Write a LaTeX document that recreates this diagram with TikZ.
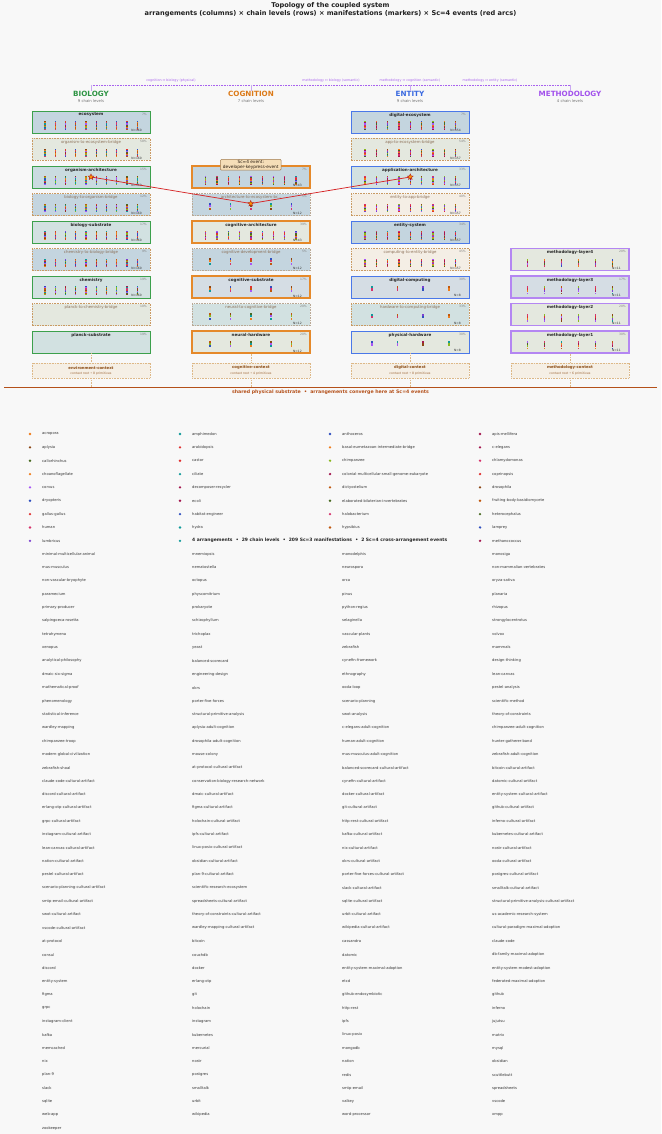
\documentclass[tikz,border=0pt]{standalone}
\usepackage{fontspec}
\setmainfont{DejaVu Sans}
\usetikzlibrary{shapes.geometric}
\definecolor{bg}{HTML}{F8F8F8}
\definecolor{bioG}{HTML}{3CA04C}
\definecolor{cogO}{HTML}{E5892A}
\definecolor{entB}{HTML}{4A78E8}
\definecolor{metP}{HTML}{B486F2}
\definecolor{bioT}{HTML}{2E9444}
\definecolor{cogT}{HTML}{DC7A18}
\definecolor{entT}{HTML}{3B6AE0}
\definecolor{metT}{HTML}{A251EC}
\definecolor{brg}{HTML}{C99A62}
\definecolor{brgc}{HTML}{B9A894}
\definecolor{brtxt}{HTML}{8C7058}
\definecolor{fB}{HTML}{C4D5DF}
\definecolor{fBT}{HTML}{CADBE0}
\definecolor{fT}{HTML}{D2E1E1}
\definecolor{fG}{HTML}{E4E8DF}
\definecolor{fC}{HTML}{F4EEE5}
\definecolor{fS}{HTML}{D5DDE4}
\definecolor{ctxF}{HTML}{F5EFE5}
\definecolor{ctxD}{HTML}{DDB887}
\definecolor{ctxT}{HTML}{8A4A12}
\definecolor{baseC}{HTML}{B4501A}
\definecolor{arcR}{HTML}{D62728}
\definecolor{lnk}{HTML}{A862EE}
\definecolor{lnkL}{HTML}{C9A8F2}
\definecolor{evF}{HTML}{F5DEB8}
\definecolor{m0}{HTML}{F07C1A}
\definecolor{m1}{HTML}{8B4513}
\definecolor{m2}{HTML}{4A6B22}
\definecolor{m3}{HTML}{A855F7}
\definecolor{m4}{HTML}{2F4FBF}
\definecolor{m5}{HTML}{E03131}
\definecolor{m6}{HTML}{D6336C}
\definecolor{m7}{HTML}{0F9A9A}
\definecolor{m8}{HTML}{A3174F}
\definecolor{m9}{HTML}{8AB820}
\definecolor{m10}{HTML}{C0580E}
\definecolor{m11}{HTML}{7B3FD0}
\newcommand{\fs}[1]{\fontsize{#1}{#1}\selectfont}
\newcommand{\archt}[1]{{\fs{4.1}\bfseries\color{black!85}#1}}
\newcommand{\bridt}[1]{{\fs{3.9}\color{brtxt}#1}}
\tikzset{
  rowb/.style={rectangle,minimum width=118pt,minimum height=22pt,inner sep=0pt},
  bioA/.style={draw=bioG,line width=0.9pt},
  cogA/.style={draw=cogO,line width=1.1pt},
  entA/.style={draw=entB,line width=0.9pt},
  metA/.style={draw=metP,line width=1.5pt},
  bridge/.style={draw=brg,dash pattern=on 1.6pt off 1pt,line width=0.7pt},
  bridgec/.style={draw=brgc,dash pattern=on 1.6pt off 1pt,line width=0.7pt},
  pct/.style={font=\fs{3},text=black!50,inner sep=0pt,anchor=east},
  nlabel/.style={font=\fs{3},text=black!80,inner sep=0pt,anchor=east},
  ctx/.style={rectangle,minimum width=118pt,minimum height=15pt,inner sep=0pt,fill=ctxF,draw=ctxD,dash pattern=on 0.8pt off 0.8pt,line width=0.6pt},
  vlink/.style={draw=ctxD,dash pattern=on 0.8pt off 0.8pt,line width=0.5pt},
  head/.style={font=\fs{7.2}\bfseries,inner sep=0pt},
  sub/.style={font=\fs{3.8},text=black!55,inner sep=0pt},
  lnklab/.style={font=\fs{3.3},text=lnk,inner sep=0pt},
  leg/.style={font=\fs{3.7},text=black!80,inner sep=0pt,anchor=west},
  evstar/.style={star,star points=5,star point ratio=2.2,minimum size=6pt,inner sep=0pt,fill=orange!85!yellow,draw=arcR!80!black,line width=0.4pt},
}
\newcommand{\rowbox}[7]{%
  \node[rowb,#4,fill=#5] (#1) at ({#2+59},{#3+11}) {};
  \node[anchor=north,inner sep=0pt] at ({#2+59},{#3+1.7}) {#6};
  \node[pct] at ({#2+115},{#3+3}) {#7};}
\newcommand{\nlab}[3]{\node[nlabel] at ({#1+110},{#2+19.9}) {N=#3};}
\newcommand{\bars}[8]{%
  \foreach \i in {1,...,#3}{%
    \foreach \j in {1,...,#5}{%
      \pgfmathtruncatemacro{\rr}{mod(\i*17+\j*29+\i*\j*\j*7+\j*\j*3+\i*\i*5+round(#4)*3+round(#1),12)}%
      \fill[m\rr] ({#1+(\i-1)*#2-#7/2},{#4+(\j-1)*#6}) rectangle ++(#7,#8);}}}
\begin{document}
\begin{tikzpicture}[x=1pt,y=-1pt]
\path[use as bounding box,fill=bg] (0,0) rectangle (661,1134);
% title
\node[font=\fs{6.6}\bfseries,text=black!88,inner sep=0pt] (title1) at (330.5,6) {Topology of the coupled system};
\node[font=\fs{6.6}\bfseries,text=black!88,inner sep=0pt] (title2) at (330.5,14) {arrangements (columns) × chain levels (rows) × manifestations (markers) × Sc=4 events (red arcs)};
% arrangement links
\coordinate (t1) at (91,85);
\coordinate (t2) at (251,85);
\coordinate (t3) at (410,85);
\coordinate (t4) at (570,85);
\draw[lnk,dash pattern=on 1pt off 0.6pt,line width=0.5pt] (t1) -- (t4);
\node[lnklab] (l1) at (171,81) {cognition ↔ biology (physical)};
\node[lnklab] (l2) at (331,81) {methodology ↔ biology (semantic)};
\node[lnklab] (l3) at (410,81) {methodology ↔ cognition (semantic)};
\node[lnklab] (l4) at (490,81) {methodology ↔ entity (semantic)};
% headers
\node[head,text=bioT] (bioh) at (91,93.5) {BIOLOGY};
\node[head,text=cogT] (cogh) at (251,93.5) {COGNITION};
\node[head,text=entT] (enth) at (410,93.5) {ENTITY};
\node[head,text=metT] (meth) at (570,93.5) {METHODOLOGY};
\node[sub] at (91,101.3) {9 chain levels};
\node[sub] at (251,101.3) {7 chain levels};
\node[sub] at (410,101.3) {9 chain levels};
\node[sub] at (570,101.3) {4 chain levels};
\foreach \a/\b in {t1/bioh,t2/cogh,t3/enth,t4/meth} \draw[lnkL,line width=0.5pt] (\a) -- (\b.north);
% ---------------- BIOLOGY ----------------
\rowbox{bio1}{32}{111}{bioA}{fB}{\archt{ecosystem}}{7\%}
\rowbox{bio2}{32}{138.5}{bridge}{fG}{\bridt{organism-to-ecosystem-bridge}}{58\%}
\rowbox{bio3}{32}{166}{bioA}{fBT}{\archt{organism-architecture}}{15\%}
\rowbox{bio4}{32}{193.5}{bridge}{fB}{\bridt{biology-to-organism-bridge}}{12\%}
\rowbox{bio5}{32}{221}{bioA}{fT}{\archt{biology-substrate}}{17\%}
\rowbox{bio6}{32}{248.5}{bridge}{fB}{\bridt{chemistry-to-biology-bridge}}{9\%}
\rowbox{bio7}{32}{276}{bioA}{fT}{\archt{chemistry}}{19\%}
\rowbox{bio8}{32}{303.5}{bridge}{fG}{\bridt{planck-to-chemistry-bridge}}{10\%}
\rowbox{bio9}{32}{331}{bioA}{fT}{\archt{planck-substrate}}{19\%}
\foreach \y in {111,138.5,166,193.5,221,248.5,276}{
  \bars{45}{10.25}{10}{\y+10.3}{8}{1.08}{1.3}{1.08}
  \nlab{32}{\y}{160}}
% ---------------- COGNITION ----------------
\rowbox{cog1}{192}{166}{cogA}{fB}{}{7\%}
\rowbox{cog2}{192}{193.5}{bridgec}{fB}{\bridt{architecture-to-ecosystem-br...}}{5\%}
\rowbox{cog3}{192}{221}{cogA}{fG}{\archt{cognitive-architecture}}{39\%}
\rowbox{cog4}{192}{248.5}{bridgec}{fB}{\bridt{cognitive-development-bridge}}{5\%}
\rowbox{cog5}{192}{276}{cogA}{fS}{\archt{cognitive-substrate}}{17\%}
\rowbox{cog6}{192}{303.5}{bridgec}{fT}{\bridt{neural-to-cognitive-bridge}}{20\%}
\rowbox{cog7}{192}{331}{cogA}{fG}{\archt{neural-hardware}}{20\%}
\foreach \y in {166,221}{
  \bars{205.7}{11.3}{9}{\y+10.3}{8}{1.08}{1.3}{1.08}
  \nlab{192}{\y}{43}}
\foreach \y in {193.5,248.5,276,303.5,331}{
  \bars{210}{20.4}{5}{\y+9.5}{3}{2.3}{1.7}{2.0}
  \nlab{192}{\y}{12}}
% ---------------- ENTITY ----------------
\rowbox{ent1}{351}{111}{entA}{fB}{\archt{digital-ecosystem}}{7\%}
\rowbox{ent2}{351}{138.5}{bridge}{fG}{\bridt{app-to-ecosystem-bridge}}{54\%}
\rowbox{ent3}{351}{166}{entA}{fT}{\archt{application-architecture}}{33\%}
\rowbox{ent4}{351}{193.5}{bridge}{fC}{\bridt{entity-to-app-bridge}}{40\%}
\rowbox{ent5}{351}{221}{entA}{fB}{\archt{entity-system}}{34\%}
\rowbox{ent6}{351}{248.5}{bridge}{fC}{\bridt{computing-to-entity-bridge}}{45\%}
\rowbox{ent7}{351}{276}{entA}{fS}{\archt{digital-computing}}{30\%}
\rowbox{ent8}{351}{303.5}{bridge}{fT}{\bridt{hardware-to-computing-bridge}}{33\%}
\rowbox{ent9}{351}{331}{entA}{fG}{\archt{physical-hardware}}{30\%}
\bars{365}{11.34}{9}{121.3}{8}{1.08}{1.3}{1.08}
\nlab{351}{111}{154}
\foreach \y in {138.5,166,193.5,221,248.5}{
  \bars{365}{11.34}{9}{\y+10.3}{8}{1.08}{1.3}{1.08}
  \nlab{351}{\y}{157}}
\foreach \y in {276,303.5,331}{
  \bars{371.7}{25.7}{4}{\y+10}{2}{2.4}{1.8}{2.1}
  \nlab{351}{\y}{8}}
% ---------------- METHODOLOGY ----------------
\rowbox{met4}{511}{248.5}{metA}{fG}{\archt{methodology-layer4}}{20\%}
\rowbox{met3}{511}{276}{metA}{fS}{\archt{methodology-layer3}}{17\%}
\rowbox{met2}{511}{303.5}{metA}{fG}{\archt{methodology-layer2}}{20\%}
\rowbox{met1}{511}{331}{metA}{fG}{\archt{methodology-layer1}}{30\%}
\foreach \y in {248.5,276,303.5,331}{
  \bars{527.3}{17.07}{6}{\y+10.2}{4}{2.1}{1.6}{1.8}
  \nlab{511}{\y}{11}}
% ---------------- contexts ----------------
\foreach \n/\x/\t/\k in {envc/91/environment-context/8,cogc/251/cognitive-context/4,digc/410/digital-context/8,metc/570/methodology-context/6}{
  \node[ctx] (\n) at (\x,370.5) {};
  \node[font=\fs{3.8}\bfseries,text=ctxT,inner sep=0pt] at (\x,367.6) {\t};
  \node[font=\fs{3.1},text=ctxT!85,inner sep=0pt] at (\x,373.6) {context root • \k\ primitives};
}
\coordinate (b1) at (91,387);
\coordinate (b2) at (251,387);
\coordinate (b3) at (410,387);
\coordinate (b4) at (570,387);
\draw[vlink] (bio9.south) -- (envc.north);
\draw[vlink] (cog7.south) -- (cogc.north);
\draw[vlink] (ent9.south) -- (digc.north);
\draw[vlink] (met1.south) -- (metc.north);
\draw[vlink] (envc.south) -- (b1);
\draw[vlink] (cogc.south) -- (b2);
\draw[vlink] (digc.south) -- (b3);
\draw[vlink] (metc.south) -- (b4);
\coordinate (bl) at (4,387);
\coordinate (br) at (657,387);
\draw[baseC,line width=1pt] (bl) -- (br);
\node[font=\fs{4.7}\bfseries,text=baseC,inner sep=0pt] (basetxt) at (330.5,392.6) {shared physical substrate \ • \ arrangements converge here at Sc=4 events};
% ---------------- Sc=4 event arcs ----------------
\coordinate (e1) at (91,177);
\coordinate (e2) at (250.7,203.5);
\coordinate (e3) at (410.3,177);
\draw[arcR,line width=0.75pt] (e1) -- (e2) -- (e3);
\node[evstar] (s1) at (e1) {};
\node[evstar] (s2) at (e2) {};
\node[evstar] (s3) at (e3) {};
\node[rectangle,rounded corners=1pt,fill=evF,draw=brg!80!black,line width=0.5pt,align=center,font=\fs{4.3},text=black!80!brown,inner xsep=2.5pt,inner ysep=1.2pt] (evlab) at (250.8,164.8) {Sc=4 event:\\developer-keypress-event};
% ---------------- legend ----------------
\foreach \t [count=\k from 0] in {acropora,aplysia,callorhinchus,choanoflagellate,corvus,dryopteris,gallus-gallus,human,lumbricus,minimal-multicellular-animal,mus-musculus,non-vascular-bryophyte,paramecium,primary-producer,salpingoeca-rosetta,tetrahymena,xenopus,analytical-philosophy,dmaic-six-sigma,mathematical-proof,phenomenology,statistical-inference,wardley-mapping,chimpanzee-troop,modern-global-civilization,zebrafish-shoal,claude-code-cultural-artifact,discord-cultural-artifact,erlang-otp-cultural-artifact,grpc-cultural-artifact,instagram-cultural-artifact,lean-canvas-cultural-artifact,nation-cultural-artifact,pestel-cultural-artifact,scenario-planning-cultural-artifact,smtp-email-cultural-artifact,swot-cultural-artifact,vscode-cultural-artifact,at-protocol,consul,discord,entity-system,figma,grpc,instagram-client,kafka,memcached,nix,plan-9,slack,sqlite,web-app,zookeeper}
  {\node[leg] at (42,{434+13.35*\k}) {\t};}
\foreach \t [count=\k from 0] in {amphimedon,arabidopsis,castor,ciliate,decomposer-recycler,ecoli,habitat-engineer,hydra}
  {\node[leg] at (192,{434+13.35*\k}) {\t};}
\foreach \t [count=\k from 9] in {mnemiopsis,nematostella,octopus,physcomitrium,prokaryote,schizophyllum,trichoplax,yeast,balanced-scorecard,engineering-design,okrs,porter-five-forces,structural-primitive-analysis,aplysia-adult-cognition,drosophila-adult-cognition,mouse-colony,at-protocol-cultural-artifact,conservation-biology-research-network,dmaic-cultural-artifact,figma-cultural-artifact,holochain-cultural-artifact,ipfs-cultural-artifact,linux-posix-cultural-artifact,obsidian-cultural-artifact,plan-9-cultural-artifact,scientific-research-ecosystem,spreadsheets-cultural-artifact,theory-of-constraints-cultural-artifact,wardley-mapping-cultural-artifact,bitcoin,couchdb,docker,erlang-otp,git,holochain,instagram,kubernetes,mercurial,nostr,postgres,smalltalk,urbit,wikipedia}
  {\node[leg] at (192,{434+13.35*\k}) {\t};}
\foreach \t [count=\k from 0] in {anthoceros,basal-eumetazoan-intermediate-bridge,chimpanzee,colonial-multicellular-small-genome-eukaryote,dictyostelium,elaborated-bilaterian-invertebrates,halobacterium,hypsibius}
  {\node[leg] at (342,{434+13.35*\k}) {\t};}
\foreach \t [count=\k from 9] in {monodelphis,neurospora,orca,pinus,python-regius,selaginella,vascular-plants,zebrafish,cynefin-framework,ethnography,ooda-loop,scenario-planning,swot-analysis,c-elegans-adult-cognition,human-adult-cognition,mus-musculus-adult-cognition,balanced-scorecard-cultural-artifact,cynefin-cultural-artifact,docker-cultural-artifact,git-cultural-artifact,http-rest-cultural-artifact,kafka-cultural-artifact,nix-cultural-artifact,okrs-cultural-artifact,porter-five-forces-cultural-artifact,slack-cultural-artifact,sqlite-cultural-artifact,urbit-cultural-artifact,wikipedia-cultural-artifact,cassandra,datomic,entity-system-maximal-adoption,etcd,github-endosymbiotic,http-rest,ipfs,linux-posix,mongodb,nation,redis,smtp-email,valkey,word-processor}
  {\node[leg] at (342,{434+13.35*\k}) {\t};}
\foreach \t [count=\k from 0] in {apis-mellifera,c-elegans,chlamydomonas,coprinopsis,drosophila,fruiting-body-basidiomycete,heterocephalus,lamprey,methanococcus,monosiga,non-mammalian-vertebrates,oryza-sativa,planaria,rhizopus,strongylocentrotus,volvox,mammals,design-thinking,lean-canvas,pestel-analysis,scientific-method,theory-of-constraints,chimpanzee-adult-cognition,hunter-gatherer-band,zebrafish-adult-cognition,bitcoin-cultural-artifact,datomic-cultural-artifact,entity-system-cultural-artifact,github-cultural-artifact,inferno-cultural-artifact,kubernetes-cultural-artifact,nostr-cultural-artifact,ooda-cultural-artifact,postgres-cultural-artifact,smalltalk-cultural-artifact,structural-primitive-analysis-cultural-artifact,us-academic-research-system,cultural-paradigm-maximal-adoption,claude-code,db-family-maximal-adoption,entity-system-modest-adoption,federated-maximal-adoption,github,inferno,jujutsu,matrix,mysql,obsidian,scuttlebutt,spreadsheets,vscode,xmpp}
  {\node[leg] at (492,{434+13.35*\k}) {\t};}
% legend markers
\foreach \c [count=\k from 0] in {m0,m1,m2,m0,m3,m4,m5,m6,m11}
  {\fill[\c] (30,{434+13.35*\k}) circle (1.3);}
\foreach \c [count=\k from 0] in {m7,m5,m5,m7,m8,m8,m4,m7,m7}
  {\fill[\c] (180,{434+13.35*\k}) circle (1.3);}
\foreach \c [count=\k from 0] in {m4,m0,m9,m8,m10,m2,m6,m10}
  {\fill[\c] (330,{434+13.35*\k}) circle (1.3);}
\foreach \c [count=\k from 0] in {m8,m8,m6,m5,m1,m10,m2,m4,m8}
  {\fill[\c] (480,{434+13.35*\k}) circle (1.3);}
\node[font=\fs{4.5}\bfseries,text=black!85,inner sep=0pt,anchor=west] (summary) at (192,540.2) {4 arrangements \ • \ 29 chain levels \ • \ 209 Sc=3 manifestations \ • \ 2 Sc=4 cross-arrangement events};
\end{tikzpicture}
\end{document}
